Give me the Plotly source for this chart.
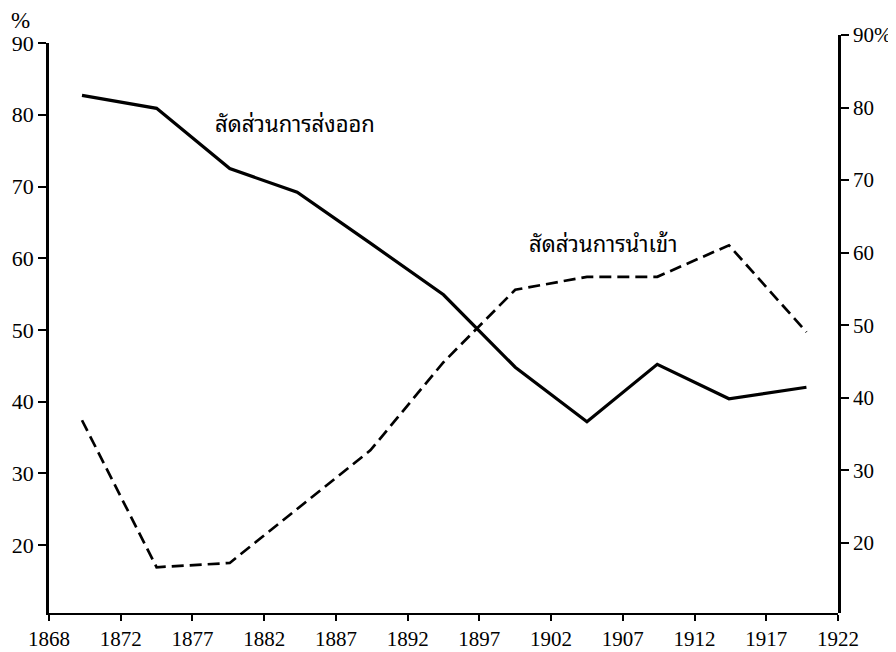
import plotly.graph_objects as go

# period midpoints (five-year averages)
years = [1869.3, 1874.5, 1879.6, 1884.3, 1889.4, 1894.5, 1899.5, 1904.5, 1909.4, 1914.4, 1919.8]
export_share = [82.7, 80.9, 72.5, 69.2, 62.1, 54.9, 44.8, 37.2, 45.2, 40.4, 42.0]
import_share = [37.4, 16.9, 17.5, 25.0, 33.2, 45.5, 55.6, 57.4, 57.4, 61.8, 49.7]

x_tickvals = [1867, 1872, 1877, 1882, 1887, 1892, 1897, 1902, 1907, 1912, 1917, 1922]
x_ticktext = ["1868", "1872", "1877", "1882", "1887", "1892", "1897", "1902", "1907", "1912", "1917", "1922"]
y_ticks = [20, 30, 40, 50, 60, 70, 80, 90]
y2_ticktext = ["20", "30", "40", "50", "60", "70", "80", "90%"]

export_label = "สัดส่วนการส่งออก"
import_label = "สัดส่วนการนำเข้า"

serif = "Liberation Serif, Times New Roman, serif"
thai = "Noto Sans Thai Looped, Loma, Garuda, Norasi, Noto Sans Thai, sans-serif"

fig = go.Figure()
fig.add_trace(go.Scatter(x=years, y=export_share, mode="lines",
                         line=dict(color="black", width=3.2), name=export_label))
fig.add_trace(go.Scatter(x=years, y=import_share, mode="lines",
                         line=dict(color="black", width=2.7, dash="12px,6px"), name=import_label))
# empty trace so the right-hand axis gets its own subplot
fig.add_trace(go.Scatter(x=[], y=[], yaxis="y2", hoverinfo="skip", showlegend=False))

fig.add_annotation(x=1884.15, y=79.0, text=export_label, showarrow=False,
                   font=dict(family=thai, size=22, color="black"))
fig.add_annotation(x=1905.6, y=62.25, text=import_label, showarrow=False,
                   font=dict(family=thai, size=22, color="black"))
fig.add_annotation(x=-0.036, y=1.0, xref="paper", yref="paper", text="%", showarrow=False,
                   xanchor="center", yanchor="middle", yshift=15,
                   font=dict(family=serif, size=23, color="black"))

# page body adds 8px, so margins are set 8px smaller on the top/left
fig.update_layout(
    width=896, height=652,
    margin=dict(l=41, r=66, t=27, b=47),
    paper_bgcolor="white", plot_bgcolor="rgba(0,0,0,0)",
    showlegend=False,
    xaxis=dict(range=[1867, 1922], tickvals=x_tickvals, ticktext=x_ticktext, automargin=False,
               showgrid=False, zeroline=False, showline=True, linecolor="black", linewidth=2,
               ticks="outside", ticklen=6, tickwidth=1.5, tickcolor="black",
               tickfont=dict(family=serif, size=21, color="black"), anchor="y"),
    yaxis=dict(range=[10.52, 90], domain=[0, 0.986], tickvals=y_ticks, automargin=False,
               showgrid=False, zeroline=False, showline=True, linecolor="black", linewidth=2.5,
               ticks="outside", ticklen=8, tickwidth=1.5, tickcolor="black",
               tickfont=dict(family=serif, size=22, color="black"), anchor="x"),
    yaxis2=dict(range=[10.35, 90], domain=[0, 1], tickvals=y_ticks, ticktext=y2_ticktext,
                side="right", anchor="x", automargin=False,
                showgrid=False, zeroline=False, showline=True, linecolor="black", linewidth=2.5,
                ticks="outside", ticklen=8, tickwidth=1.5, tickcolor="black",
                tickfont=dict(family=serif, size=21, color="black")),
)

fig.write_html("out.html")
